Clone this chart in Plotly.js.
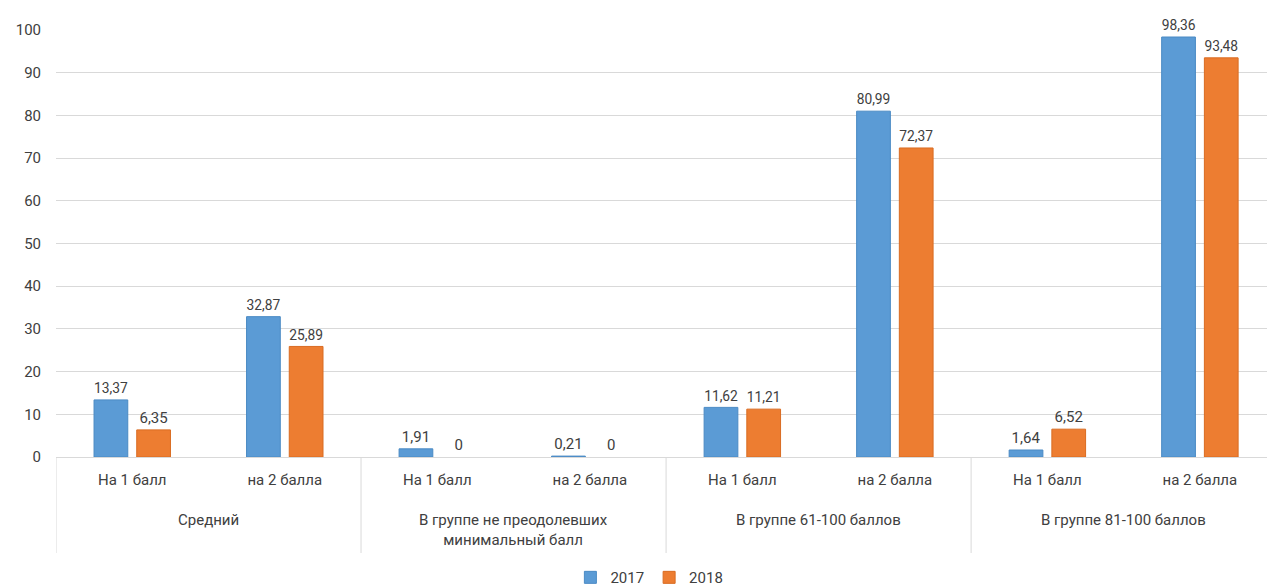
<!DOCTYPE html>
<html>
<head>
<meta charset="utf-8">
<script src="https://cdn.plot.ly/plotly-3.0.1.min.js"></script>
<style>html,body{margin:0;padding:0;background:#fff;}#chart{width:1267px;height:587px;}</style>
</head>
<body>
<div id="chart"></div>
<script>
const groups = ["Средний","Средний",
  "В группе не преодолевших<br>минимальный балл","В группе не преодолевших<br>минимальный балл",
  "В группе 61-100 баллов","В группе 61-100 баллов",
  "В группе 81-100 баллов","В группе 81-100 баллов"];
const subcats = ["На 1 балл","на 2 балла","На 1 балл","на 2 балла","На 1 балл","на 2 балла","На 1 балл","на 2 балла"];
const values2017 = [13.37, 32.87, 1.91, 0.21, 11.62, 80.99, 1.64, 98.36];
const values2018 = [6.35, 25.89, 0, 0, 11.21, 72.37, 6.52, 93.48];
const seriesNames = ["2017","2018"];

const fmt = v => String(v).replace('.', ',');
const FONT = "Roboto, sans-serif";
const xIdx = subcats.map((_, i) => i);

// group spans derived from the groups array
const spans = [];
groups.forEach((g, i) => {
  const last = spans[spans.length - 1];
  if (last && last.name === g) last.end = i; else spans.push({name:g, start:i, end:i});
});

const PLOT_H = 587 - 30 - 130;
const px2paper = p => -p / PLOT_H;

const annotations = spans.map(s => ({
  x:(s.start + s.end) / 2, xref:'x', y:px2paper(52), yref:'paper',
  yanchor:'top', xanchor:'center', showarrow:false, text:s.name,
  font:{size:15, color:'#404040', family:FONT}
}));
const bounds = [spans[0].start - 0.5].concat(spans.map(s => s.end + 0.5));
const shapes = bounds.map(b => ({
  type:'line', xref:'x', yref:'paper', x0:b, x1:b, y0:0, y1:px2paper(96),
  line:{color:'#d9d9d9', width:1}
}));

const traces = [
  {type:'bar', name:seriesNames[0], x:xIdx, y:values2017,
   text:values2017.map(fmt), textposition:'outside', cliponaxis:false,
   textfont:{size:15, color:'#404040', family:FONT},
   marker:{color:'#5B9BD5', line:{color:'#4A8AC4', width:values2017.map(v => v > 0 ? 1 : 0)}}},
  {type:'bar', name:seriesNames[1], x:xIdx, y:values2018,
   text:values2018.map(fmt), textposition:'outside', cliponaxis:false,
   textfont:{size:15, color:'#404040', family:FONT},
   marker:{color:'#ED7D31', line:{color:'#D96C22', width:values2018.map(v => v > 0 ? 1 : 0)}}}
];

const layout = {
  width:1267, height:587,
  margin:{l:56, r:0, t:30, b:130},
  paper_bgcolor:'#fff', plot_bgcolor:'#fff',
  font:{family:FONT, size:15, color:'#404040'},
  barmode:'group', bargap:0.44, bargroupgap:0.21,
  showlegend:true,
  legend:{orientation:'h', x:0.49, xanchor:'center', yref:'container', y:0.016, yanchor:'middle',
    font:{size:15, color:'#404040'}},
  annotations:annotations,
  shapes:shapes,
  xaxis:{range:[-0.5, 7.44], tickmode:'array', tickvals:xIdx, ticktext:subcats,
    showgrid:false, zeroline:false, automargin:false,
    showline:false, ticks:'', ticklabelstandoff:12, tickfont:{size:15, color:'#404040'}},
  yaxis:{range:[0,100], dtick:10, showgrid:true, gridcolor:'#d9d9d9', gridwidth:1, automargin:false,
    zeroline:true, zerolinecolor:'#d9d9d9', showline:false, ticks:'', ticklabelstandoff:14,
    tickfont:{size:15, color:'#404040'}}
};
Plotly.newPlot('chart', traces, layout, {displayModeBar:false, staticPlot:true});
</script>
</body>
</html>
